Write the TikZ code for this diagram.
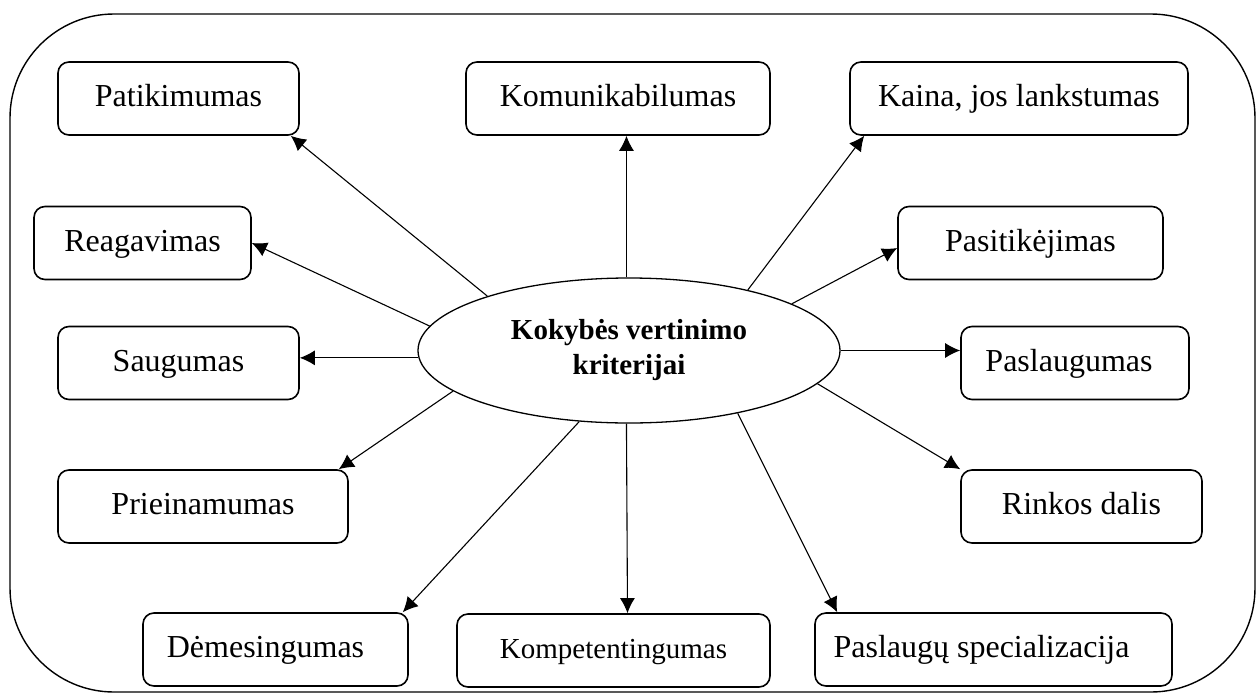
\documentclass[tikz,border=0pt]{standalone}
\usepackage{fontspec}
\setmainfont{Liberation Serif}
\usetikzlibrary{arrows.meta,shapes.geometric}
\begin{document}
\begin{tikzpicture}[x=0.5pt,y=-0.5pt,
  frame/.style={draw,line width=0.7pt,rounded corners=52pt},
  crit/.style={draw,line width=0.8pt,rounded corners=5.5pt,inner sep=0pt,
    minimum height=36.5pt,text height=11.5pt,text depth=3.5pt,
    font=\fontsize{16pt}{19pt}\selectfont},
  smallcrit/.style={crit,font=\fontsize{14.5pt}{17pt}\selectfont},
  core/.style={draw,line width=0.65pt,ellipse,inner sep=0pt,
    minimum width=211pt,minimum height=72.5pt,align=center,
    font=\fontsize{14.5pt}{17.5pt}\selectfont\bfseries},
  arr/.style={line width=0.55pt,-{Latex[length=7.5pt,width=7.5pt]}}]
\useasboundingbox (0,0) rectangle (1259,697);
\draw[frame] (10,14) rectangle (1255,692);

% central node
\node[core] (ell) at (629,350.5) {Kokybės vertinimo\\kriterijai};

% criteria
\node[crit,minimum width=120.5pt] (pat) at (178.5,98.5) {Patikimumas};
\node[crit,minimum width=152pt] (kom) at (618,98.5) {Komunikabilumas};
\node[crit,minimum width=169pt] (kai) at (1019,98.5) {Kaina, jos lankstumas};
\node[crit,minimum width=108.5pt] (rea) at (142.5,243) {Reagavimas};
\node[crit,minimum width=132.5pt] (pas) at (1030.5,243) {Pasitikėjimas};
\node[crit,minimum width=120.5pt] (sau) at (178.5,363) {Saugumas};
\node[crit,minimum width=114pt] (psl) at (1075,363) {Paslaugumas\hspace*{6pt}};
\node[crit,minimum width=145pt] (pri) at (203,506.5) {Prieinamumas};
\node[crit,minimum width=120.5pt] (rin) at (1081.5,506.5) {Rinkos dalis};
\node[crit,minimum width=132.5pt] (dem) at (275.5,649.5) {Dėmesingumas\hspace*{10pt}};
\node[smallcrit,minimum width=156.5pt] (kmp) at (613.5,650.5) {Kompetentingumas};
\node[crit,minimum width=178.5pt] (spe) at (993.5,649.5) {Paslaugų specializacija\hspace*{12pt}};

% connectors
\draw[arr] (ell.159) -- ([xshift=-4.5pt]pat.south east);
\draw[arr] (ell.92) -- (ell.92 |- kom.south);
\draw[arr] (ell.27) -- ([xshift=7.5pt]kai.south west);
\draw[arr] (ell.173) -- (rea.east);
\draw[arr] (ell.16) -- ([yshift=-2.5pt]pas.west);
\draw[arr] (ell.182) -- (ell.182 -| sau.east);
\draw[arr] (ell.east) -- (ell.east -| psl.west);
\draw[arr] (ell.193) -- ([xshift=-5pt]pri.north east);
\draw[arr] (ell.350) -- (rin.north west);
\draw[arr] (ell.235) -- ([xshift=-3pt]dem.north east);
\draw[arr] (ell.268) -- ([xshift=7pt]kmp.north);
\draw[arr] (ell.330) -- ([xshift=11.5pt]spe.north west);
\end{tikzpicture}
\end{document}
